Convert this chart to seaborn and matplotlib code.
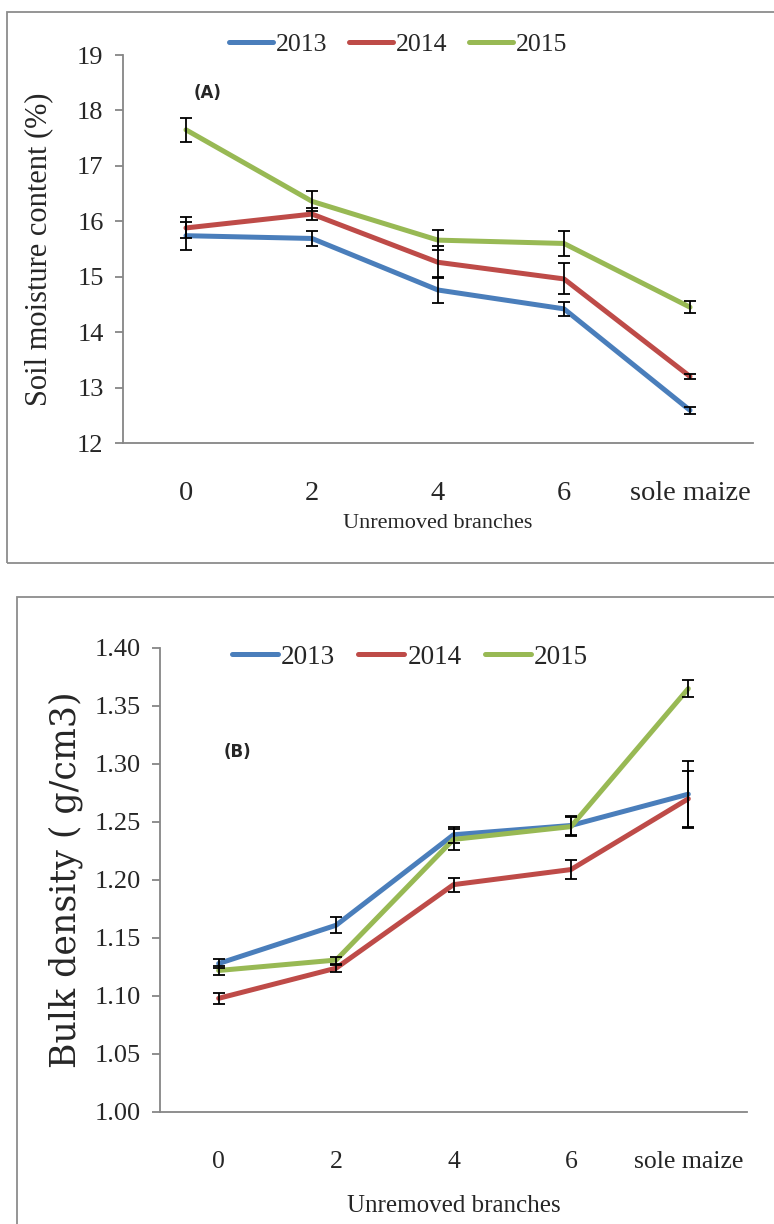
import pandas as pd
import matplotlib
matplotlib.use('Agg')
import matplotlib.pyplot as plt
import matplotlib.patches as mpatches
import seaborn as sns

# categories on the x axis
categories = ['0', '2', '4', '6', 'sole maize']
years = ['2013', '2014', '2015']
colors = ['#4A7EBB', '#BE4B48', '#98B954']

# (A) soil moisture content (%)
moist_2013 = [15.74, 15.69, 14.76, 14.42, 12.59]
moist_2014 = [15.88, 16.13, 15.26, 14.96, 13.20]
moist_2015 = [17.65, 16.36, 15.66, 15.60, 14.45]
moist_err_2013 = [0.25, 0.13, 0.24, 0.13, 0.06]
moist_err_2014 = [0.19, 0.11, 0.29, 0.28, 0.05]
moist_err_2015 = [0.22, 0.18, 0.18, 0.23, 0.11]

# (B) bulk density (g/cm3)
bulk_2013 = [1.128, 1.161, 1.239, 1.247, 1.274]
bulk_2014 = [1.098, 1.124, 1.196, 1.209, 1.270]
bulk_2015 = [1.122, 1.131, 1.235, 1.246, 1.365]
bulk_err_2013 = [0.004, 0.007, 0.007, 0.008, 0.029]
bulk_err_2014 = [0.005, 0.003, 0.006, 0.008, 0.024]
bulk_err_2015 = [0.004, 0.003, 0.009, 0.008, 0.007]

W, H = 774, 1224


def px_box(left, top, right, bottom):
    return [left / W, 1 - bottom / H, (right - left) / W, (bottom - top) / H]


def long_df(series, errs):
    rows = []
    for yr, vals, ee in zip(years, series, errs):
        for i, (v, e) in enumerate(zip(vals, ee)):
            rows.append({'pos': i, 'value': v, 'err': e, 'year': yr})
    return pd.DataFrame(rows)


sns.set_style('white')
plt.rcParams['font.family'] = ['Liberation Serif', 'DejaVu Serif']

fig = plt.figure(figsize=(W / 100, H / 100), dpi=100)

# outer frames
for (l, t, r, b) in [(7, 12, 790, 563), (17, 597, 790, 1240)]:
    fig.add_artist(mpatches.Rectangle((l / W, 1 - b / H), (r - l) / W, (b - t) / H,
                                      transform=fig.transFigure, fill=False,
                                      edgecolor='#8c8c8c', lw=1.3))


def draw_panel(ax, df, ylim, yticks, yfmt, tick_fs, xtick_fs, xlab_fs, leg_fs, leg_anchor,
               xpad, xlabpad):
    sns.lineplot(data=df, x='pos', y='value', hue='year', palette=colors,
                 linewidth=3.6, ax=ax, errorbar=None)
    for yr in years:
        d = df[df['year'] == yr]
        ax.errorbar(d['pos'], d['value'], yerr=d['err'], fmt='none', ecolor='black',
                    elinewidth=1.3, capsize=4, capthick=1.3, zorder=5)
    ax.set_xlim(-0.5, 4.5)
    ax.set_ylim(*ylim)
    ax.set_yticks(yticks)
    ax.set_yticklabels([yfmt.format(v) for v in yticks], fontsize=tick_fs)
    ax.set_xticks(range(5))
    ax.set_xticklabels(categories, fontsize=xtick_fs)
    ax.set_xticks([i - 0.5 for i in range(6)], minor=True)
    ax.tick_params(axis='x', which='major', length=0, pad=xpad)
    ax.tick_params(axis='x', which='minor', length=8, color='#868686', width=1.3, direction='out')
    ax.tick_params(axis='y', length=6, color='#868686', width=1.3, direction='out', pad=8, left=True)
    for s in ['top', 'right']:
        ax.spines[s].set_visible(False)
    for s in ['left', 'bottom']:
        ax.spines[s].set_color('#868686')
        ax.spines[s].set_linewidth(1.3)
    ax.set_xlabel('Unremoved branches', fontsize=xlab_fs, labelpad=xlabpad)
    sns.move_legend(ax, 'center', bbox_to_anchor=leg_anchor, bbox_transform=fig.transFigure,
                    ncol=3, frameon=False, title=None, fontsize=leg_fs,
                    handlelength=1.7, handletextpad=0.12, columnspacing=0.85)
    for line in ax.get_legend().get_lines():
        line.set_linewidth(3.6)


# panel A
axA = fig.add_axes(px_box(123, 55, 753, 443))
dfA = long_df([moist_2013, moist_2014, moist_2015],
              [moist_err_2013, moist_err_2014, moist_err_2015])
draw_panel(axA, dfA, (12, 19), list(range(12, 20)), '{:d}', 19, 20.5, 16, 18.5,
           (398 / W, 1 - 45 / H), 27, 6)
axA.set_ylabel('Soil moisture content (%)', fontsize=22, labelpad=17)
axA.text(208 / W, 1 - 93 / H, '(A)', transform=fig.transFigure, ha='center', va='center',
         fontsize=12, fontweight='bold', family='DejaVu Sans')

# panel B
axB = fig.add_axes(px_box(160, 648, 747, 1112))
dfB = long_df([bulk_2013, bulk_2014, bulk_2015],
              [bulk_err_2013, bulk_err_2014, bulk_err_2015])
bticks = [1.00, 1.05, 1.10, 1.15, 1.20, 1.25, 1.30, 1.35, 1.40]
draw_panel(axB, dfB, (1.0, 1.4), bticks, '{:.2f}', 19, 18.5, 18, 19.5,
           (410 / W, 1 - 657 / H), 28, 16)
axB.set_ylabel('Bulk density ( g/cm3)', fontsize=25, family='DejaVu Serif', labelpad=8)
axB.text(237 / W, 1 - 752 / H, '(B)', transform=fig.transFigure, ha='center', va='center',
         fontsize=12, fontweight='bold', family='DejaVu Sans')

fig.savefig('out.png', dpi=100)
